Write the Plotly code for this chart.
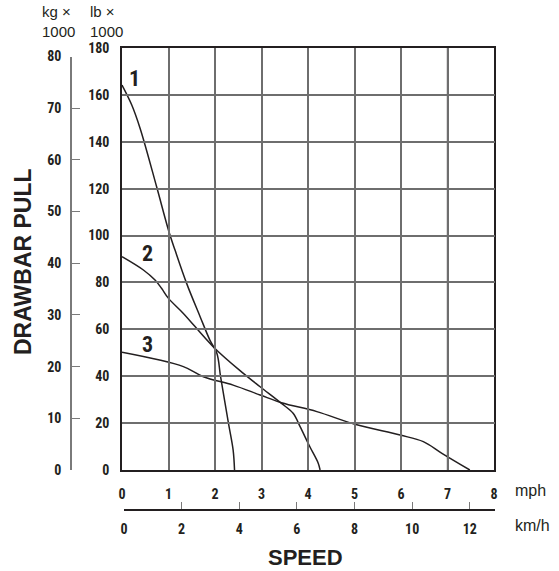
import plotly.graph_objects as go

# ---- data (speed in mph, drawbar pull in lb x 1000) ----
c1_mph = [0, 0.21, 0.39, 0.745, 1.0, 1.14, 1.39, 1.68, 1.89, 2.04, 2.12, 2.29, 2.39, 2.42]
c1_lb = [164.2, 155.7, 145.7, 120.8, 102.3, 93.8, 79.6, 65.4, 55.4, 49.8, 39.8, 19.9, 8.5, 0]

c2_mph = [0, 0.46, 0.71, 0.85, 1.0, 1.32, 1.96, 2.61, 2.97, 3.43, 3.68, 3.83, 4.04, 4.22, 4.26]
c2_lb = [91.0, 85.3, 81.0, 77.5, 73.2, 66.8, 52.6, 41.2, 35.5, 28.4, 24.2, 18.5, 9.9, 2.9, 0]

c3_mph = [0, 1.32, 1.75, 2.39, 2.97, 3.43, 4.19, 5.01, 5.98, 6.48, 6.88, 7.48]
c3_lb = [50.2, 44.1, 39.8, 36.2, 32.0, 28.7, 24.9, 19.5, 14.9, 12.1, 7.1, 0]

curve_names = ["1", "2", "3"]
label_mph = [0.26, 0.55, 0.55]
label_lb = [166.8, 92.3, 53.5]

mph_ticks = [0, 1, 2, 3, 4, 5, 6, 7, 8]
kmh_ticks = [0, 2, 4, 6, 8, 10, 12]
lb_ticks = [0, 20, 40, 60, 80, 100, 120, 140, 160, 180]
kg_ticks = [0, 10, 20, 30, 40, 50, 60, 70, 80]

MPH_MAX = 8
LB_MAX = 180
KG_PER_LB = 1 / 2.20462
KMH_PER_MPH = 1.609344

# ---- layout geometry ----
W, H = 559, 571
px_l, px_r, px_t, px_b = 122, 494, 48, 470
xd = [px_l / W, px_r / W]
yd = [(H - px_b) / H, (H - px_t) / H]
kg_top_frac = yd[0] + (yd[1] - yd[0]) * (kg_ticks[-1] / KG_PER_LB) / LB_MAX

TICK_FONT = dict(family="Liberation Sans Narrow, Arial Narrow, Roboto Condensed, DejaVu Sans Condensed, sans-serif",
                 size=14, color="#231f20", weight="bold")
REG_FONT = dict(family="Liberation Sans, Arial, Helvetica, sans-serif", size=15, color="#231f20")
TITLE_FONT = dict(family="Liberation Sans, Arial, Helvetica, sans-serif", size=22, color="#231f20", weight="bold")

fig = go.Figure()
for xs, ys in [(c1_mph, c1_lb), (c2_mph, c2_lb), (c3_mph, c3_lb)]:
    fig.add_trace(go.Scatter(x=xs, y=ys, mode="lines", line=dict(color="#231f20", width=1.5),
                             line_shape="spline", hoverinfo="skip", showlegend=False))

# invisible traces to realise secondary axes
fig.add_trace(go.Scatter(x=[None], y=[None], xaxis="x", yaxis="y2", showlegend=False, hoverinfo="skip"))
fig.add_trace(go.Scatter(x=[None], y=[None], xaxis="x2", yaxis="y", showlegend=False, hoverinfo="skip"))

fig.add_vline(x=7, line=dict(color="#231f20", width=1.3), layer="below")

fig.update_layout(
    width=W, height=H,
    margin=dict(l=0, r=0, t=0, b=0, autoexpand=False),
    paper_bgcolor="white", plot_bgcolor="rgba(0,0,0,0)",
    showlegend=False,
    xaxis=dict(domain=xd, range=[0, MPH_MAX], tickvals=mph_ticks, ticks="",
               showgrid=True, gridcolor="#6e6e6e", gridwidth=1.5,
               showline=True, linecolor="#231f20", linewidth=1.5, mirror=True,
               zeroline=False, tickfont=TICK_FONT, ticklabelstandoff=10, anchor="y"),
    yaxis=dict(domain=yd, range=[0, LB_MAX], tickvals=lb_ticks, ticks="",
               showgrid=True, gridcolor="#6e6e6e", gridwidth=1.5,
               showline=True, linecolor="#231f20", linewidth=1.5, mirror=True,
               zeroline=False, tickfont=TICK_FONT, ticklabelstandoff=8, anchor="x"),
    yaxis2=dict(domain=[yd[0], kg_top_frac], range=[0, kg_ticks[-1]], tickvals=kg_ticks,
                anchor="free", position=71 / W, side="left",
                ticks="inside", ticklen=8, tickcolor="#7a7a7a", tickwidth=1.3,
                showline=True, linecolor="#7a7a7a", linewidth=1.5,
                showgrid=False, zeroline=False, tickfont=TICK_FONT, ticklabelstandoff=6),
    xaxis2=dict(domain=[124 / W, 495 / W], range=[0, MPH_MAX * KMH_PER_MPH], tickvals=kmh_ticks,
                anchor="free", position=(H - 510) / H, side="bottom",
                ticks="inside", ticklen=7, tickcolor="#7a7a7a", tickwidth=1.3,
                showline=True, linecolor="#231f20", linewidth=1.5,
                showgrid=False, zeroline=False, tickfont=TICK_FONT, ticklabelstandoff=6),
)

# curve labels
for name, xm, yl in zip(curve_names, label_mph, label_lb):
    fig.add_annotation(x=xm, y=yl, xref="x", yref="y", text=name, showarrow=False,
                       font=dict(TICK_FONT, size=22))

# unit labels
fig.add_annotation(x=58 / W, y=1 - 22 / H, xref="paper", yref="paper", text="kg ×<br>1000",
                   showarrow=False, font=REG_FONT, align="left", xanchor="center", yanchor="middle")
fig.add_annotation(x=106 / W, y=1 - 22 / H, xref="paper", yref="paper", text="lb ×<br>1000",
                   showarrow=False, font=REG_FONT, align="left", xanchor="center", yanchor="middle")
fig.add_annotation(x=513 / W, y=(H - 490) / H, xref="paper", yref="paper", text="mph",
                   showarrow=False, font=dict(REG_FONT, size=16), xanchor="left", yanchor="middle")
fig.add_annotation(x=513 / W, y=(H - 525) / H, xref="paper", yref="paper", text="km/h",
                   showarrow=False, font=dict(REG_FONT, size=16), xanchor="left", yanchor="middle")

# titles
fig.add_annotation(x=305 / W, y=(H - 557) / H, xref="paper", yref="paper", text="SPEED",
                   showarrow=False, font=TITLE_FONT, xanchor="center", yanchor="middle")
fig.add_annotation(x=23 / W, y=(H - 262) / H, xref="paper", yref="paper", text="DRAWBAR PULL",
                   showarrow=False, font=dict(TITLE_FONT, size=23), textangle=-90,
                   xanchor="center", yanchor="middle")

fig.write_html("out.html", config={"displayModeBar": False},
               post_script="document.body.style.margin='0';document.body.style.padding='0';"
                           "document.body.style.overflow='hidden';")
